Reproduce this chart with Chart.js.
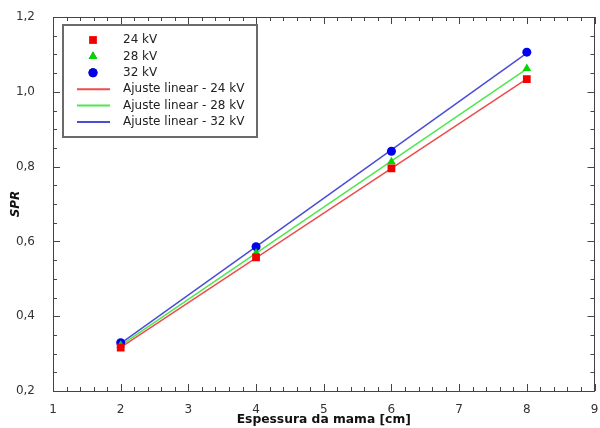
<!DOCTYPE html>
<html>
<head>
<meta charset="utf-8">
<script src="https://cdn.jsdelivr.net/npm/chart.js@4.4.0/dist/chart.umd.min.js"></script>
<style>
  html, body { margin: 0; padding: 0; background: #fff; }
  #wrap { width: 600px; height: 428px; }
</style>
</head>
<body>
<div id="wrap"><canvas id="sprChart"></canvas></div>
<script>
// medidas
const espessura = [2, 4, 6, 8];
const spr24 = [0.316, 0.557, 0.795, 1.034];
const spr28 = [0.322, 0.569, 0.813, 1.062];
const spr32 = [0.329, 0.586, 0.841, 1.106];

const pointLabels = ['24 kV', '28 kV', '32 kV'];
const fitLabels = ['Ajuste linear - 24 kV', 'Ajuste linear - 28 kV', 'Ajuste linear - 32 kV'];

// eixos
const xRange = [1, 9];
const yRange = [0.2, 1.2];
const xMinorPerMajor = 5;
const yMinorPerMajor = 4;

const FONT = "'DejaVu Sans', Verdana, sans-serif";

// minimos quadrados
const linearFit = (xs, ys) => {
    const n = xs.length;
    const mx = xs.reduce((a, b) => a + b, 0) / n;
    const my = ys.reduce((a, b) => a + b, 0) / n;
    let sxy = 0, sxx = 0;
    for (let i = 0; i < n; i++) {
        sxy += (xs[i] - mx) * (ys[i] - my);
        sxx += (xs[i] - mx) * (xs[i] - mx);
    }
    const b = sxy / sxx;
    const a = my - b * mx;
    const x0 = Math.min(...xs), x1 = Math.max(...xs);
    return [{ x: x0, y: a + b * x0 }, { x: x1, y: a + b * x1 }];
}

const toPoints = (ys) => espessura.map((x, i) => ({ x: x, y: ys[i] }));

const pointSet = (label, ys, color, style, radius) => ({
    type: 'scatter',
    label: label,
    data: toPoints(ys),
    pointStyle: style,
    pointRadius: radius,
    pointHoverRadius: radius,
    backgroundColor: color,
    borderColor: color,
    borderWidth: 0,
    showLine: false,
    order: 0
});

const fitSet = (label, ys, color) => ({
    type: 'line',
    label: label,
    data: linearFit(espessura, ys),
    borderColor: color,
    borderWidth: 1.5,
    pointRadius: 0,
    fill: false,
    order: 1
});

const data = {
    datasets: [
        pointSet(pointLabels[0], spr24, '#f20000', 'rect', 5.5),
        pointSet(pointLabels[1], spr28, '#00d800', 'triangle', 5),
        pointSet(pointLabels[2], spr32, '#0000ee', 'circle', 4.5),
        fitSet(fitLabels[0], spr24, '#ec4c4c'),
        fitSet(fitLabels[1], spr28, '#4ce84c'),
        fitSet(fitLabels[2], spr32, '#4c4cd8')
    ]
}

// moldura e marcas de escala para dentro
const frameTicks = {
    id: 'frameTicks',
    afterDatasetsDraw(chart) {
        const { ctx, chartArea: a, scales } = chart;
        const xs = scales.x, ys = scales.y;
        ctx.save();
        ctx.strokeStyle = '#444';
        ctx.lineWidth = 1;
        ctx.beginPath();
        const xStep = 1 / xMinorPerMajor;
        for (let v = xRange[0]; v <= xRange[1] + 1e-9; v += xStep) {
            const major = Math.abs(v - Math.round(v)) < 1e-6;
            const len = major ? 7 : 4;
            const px = Math.round(xs.getPixelForValue(v)) + 0.5;
            ctx.moveTo(px, a.bottom); ctx.lineTo(px, a.bottom - len);
            ctx.moveTo(px, a.top); ctx.lineTo(px, a.top + len);
        }
        const yStep = 0.2 / yMinorPerMajor;
        for (let k = 0; k <= 20; k++) {
            const v = yRange[0] + k * yStep;
            const major = k % yMinorPerMajor === 0;
            const len = major ? 7 : 4;
            const py = Math.round(ys.getPixelForValue(v)) + 0.5;
            ctx.moveTo(a.left, py); ctx.lineTo(a.left + len, py);
            ctx.moveTo(a.right, py); ctx.lineTo(a.right - len, py);
        }
        ctx.stroke();
        ctx.strokeRect(Math.round(a.left) + 0.5, Math.round(a.top) + 0.5,
            Math.round(a.right - a.left) - 1, Math.round(a.bottom - a.top));
        ctx.restore();
    }
}

// legenda dentro da area do grafico
const boxLegend = {
    id: 'boxLegend',
    afterDraw(chart) {
        const { ctx, chartArea: a } = chart;
        const bx = a.left + 10, by = a.top + 8, bw = 194, bh = 112;
        ctx.save();
        ctx.fillStyle = '#fff';
        ctx.fillRect(bx, by, bw, bh);
        ctx.strokeStyle = '#6a6a6a';
        ctx.lineWidth = 2;
        ctx.strokeRect(bx, by, bw, bh);
        ctx.font = '12px ' + FONT;
        ctx.textBaseline = 'middle';
        ctx.textAlign = 'left';
        chart.data.datasets.forEach((ds, i) => {
            const cy = by + 15 + i * 16.4;
            const cx = bx + 30;
            if (ds.type === 'scatter') {
                Chart.helpers.drawPoint(ctx, {
                    pointStyle: ds.pointStyle,
                    radius: ds.pointRadius,
                    rotation: 0,
                    borderWidth: 0
                }, cx, cy);
                ctx.fillStyle = ds.backgroundColor;
                ctx.fill();
            } else {
                ctx.strokeStyle = ds.borderColor;
                ctx.lineWidth = 2;
                ctx.beginPath();
                ctx.moveTo(bx + 14, cy);
                ctx.lineTo(bx + 47, cy);
                ctx.stroke();
            }
            ctx.fillStyle = '#222';
            ctx.fillText(ds.label, bx + 60, cy);
        });
        ctx.restore();
    }
}

const config = {
    data: data,
    options: {
        responsive: false,
        animation: false,
        layout: {
            padding: { top: 17, right: 3, left: 0, bottom: 0 }
        },
        scales: {
            x: {
                type: 'linear',
                min: xRange[0],
                max: xRange[1],
                grid: { display: false },
                border: { display: false },
                ticks: {
                    stepSize: 1,
                    padding: 4,
                    color: '#333',
                    font: { family: FONT, size: 12 }
                },
                title: {
                    display: true,
                    text: 'Espessura da mama [cm]',
                    color: '#111',
                    font: { family: FONT, size: 12.3, weight: 'bold' },
                    padding: { top: 0, bottom: 1 }
                },
                afterFit: (scale) => {
                    scale.height = 37;
                    scale.paddingLeft = 0;
                    scale.paddingRight = 0;
                }
            },
            y: {
                type: 'linear',
                min: yRange[0],
                max: yRange[1],
                grid: { display: false },
                border: { display: false },
                ticks: {
                    stepSize: 0.2,
                    padding: 10,
                    color: '#333',
                    font: { family: FONT, size: 12 },
                    callback: (v) => v.toFixed(1).replace('.', ',')
                },
                title: {
                    display: true,
                    text: 'SPR',
                    color: '#111',
                    font: { family: FONT, size: 12, weight: 'bold', style: 'italic' },
                    padding: { top: 9, bottom: 0 }
                },
                afterFit: (scale) => {
                    scale.width = 53;
                    scale.paddingTop = 0;
                    scale.paddingBottom = 0;
                }
            }
        },
        plugins: {
            legend: { display: false },
            tooltip: { enabled: false }
        }
    },
    plugins: [frameTicks, boxLegend]
}

const canvas = document.getElementById('sprChart');
canvas.width = 600;
canvas.height = 428;
const sprChart = new Chart(canvas, config);
</script>
</body>
</html>
